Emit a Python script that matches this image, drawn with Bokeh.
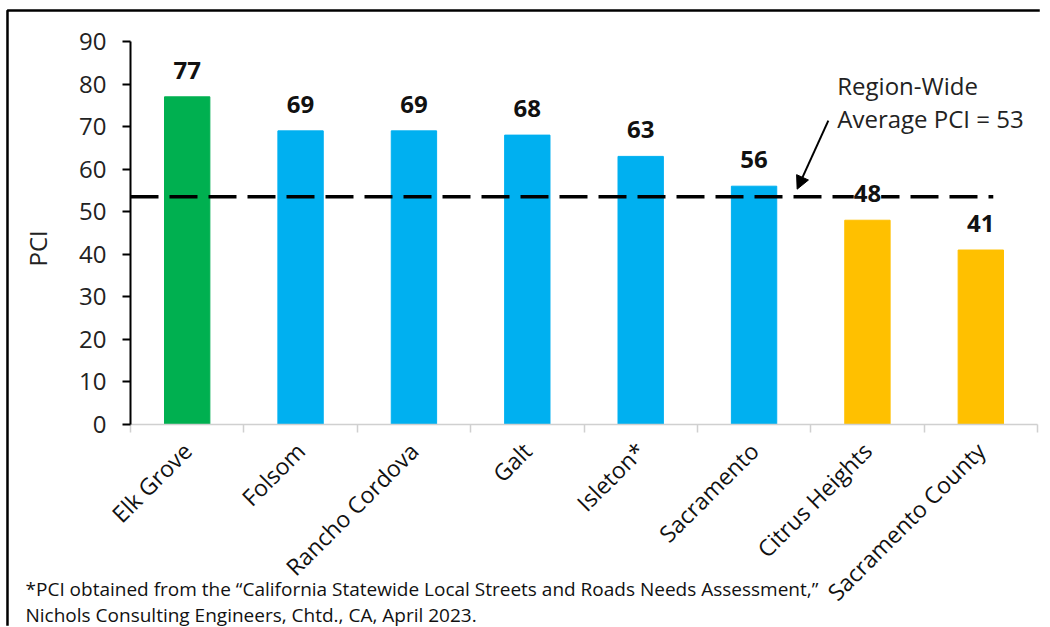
import numpy as np
from bokeh.plotting import figure
from bokeh.models import (Range1d, FixedTicker, ColumnDataSource, LabelSet, Label,
                          Arrow, NormalHead)
from bokeh.core.properties import value
from bokeh.embed import file_html
from bokeh.resources import INLINE

# ---- data ----
categories = ["Elk Grove", "Folsom", "Rancho Cordova", "Galt", "Isleton*",
              "Sacramento", "Citrus Heights", "Sacramento County"]
pci_values = [77, 69, 69, 68, 63, 56, 48, 41]
bar_colors = ["#00B050", "#00B0F0", "#00B0F0", "#00B0F0", "#00B0F0",
              "#00B0F0", "#FFC000", "#FFC000"]
region_avg = 53.5
avg_text = ["Region-Wide", "Average PCI = 53"]
y_ticks = [0, 10, 20, 30, 40, 50, 60, 70, 80, 90]
footnote = ["*PCI obtained from the \u201cCalifornia Statewide Local Streets and Roads Needs Assessment,\u201d",
            "Nichols Consulting Engineers, Chtd., CA, April 2023."]

FONT = "Open Sans"
n = len(categories)
xc = np.arange(n) + 0.5

p = figure(width=1050, height=627, x_range=Range1d(0, n), y_range=Range1d(0, 90),
           output_backend="svg", toolbar_location=None,
           min_border_left=130, min_border_right=13, min_border_top=41, min_border_bottom=203)
p.xgrid.visible = False
p.ygrid.visible = False
p.outline_line_color = None
p.background_fill_color = "white"
p.border_fill_color = "white"

src = ColumnDataSource(dict(x=xc, top=pci_values, color=bar_colors,
                            label=[str(v) for v in pci_values]))
p.vbar(x="x", top="top", width=0.4, bottom=0, color="color", source=src)

# average line
p.line(x=[0, n - 0.39], y=[region_avg, region_avg], line_color="black",
       line_width=3.5, line_dash="28 11")

labels = LabelSet(x="x", y="top", text="label", source=src, text_align="center",
                  text_baseline="alphabetic", y_offset=18, text_font=value(FONT),
                  text_font_size=value("24px"), text_font_style="bold", text_color="#111111",
                  background_fill_color="white")
p.add_layout(labels)

# x axis
xa = p.xaxis[0]
xa.ticker = FixedTicker(ticks=list(xc), minor_ticks=list(range(n + 1)))
xa.major_label_overrides = {float(x): c for x, c in zip(xc, categories)}
xa.major_tick_out = 0
xa.major_tick_in = 0
xa.minor_tick_out = 8
xa.minor_tick_in = 0
xa.minor_tick_line_color = "#d0d0d0"
xa.minor_tick_line_width = 1.5
xa.axis_line_color = "#d0d0d0"
xa.axis_line_width = 1.5
xa.major_label_orientation = np.pi / 4
xa.major_label_standoff = 14
xa.major_label_text_font = FONT
xa.major_label_text_font_size = "23px"
xa.major_label_text_color = "#111111"

# y axis
ya = p.yaxis[0]
ya.ticker = FixedTicker(ticks=y_ticks)
ya.axis_line_color = "black"
ya.axis_line_width = 2
ya.major_tick_line_color = "black"
ya.major_tick_line_width = 2
ya.major_tick_out = 8
ya.major_tick_in = 0
ya.minor_tick_line_color = None
ya.major_label_standoff = 16
ya.major_label_text_font = FONT
ya.major_label_text_font_size = "24px"
ya.major_label_text_color = "#222222"

p.add_layout(Label(x=-0.82, y=41.4, text="PCI", angle=np.pi / 2, text_align="center",
                   text_baseline="middle", text_font=FONT, text_font_size="24px",
                   text_color="#222222"), "left")

# annotation
p.add_layout(Label(x=6.234, y=79.7, text=avg_text[0], text_align="left",
                   text_baseline="middle", text_font=FONT, text_font_size="24px",
                   text_color="#222222"))
p.add_layout(Label(x=6.234, y=71.9, text=avg_text[1], text_align="left",
                   text_baseline="middle", text_font=FONT, text_font_size="24px",
                   text_color="#222222"))
p.add_layout(Arrow(end=NormalHead(size=13, fill_color="black", line_color="black"),
                   x_start=6.155, y_start=71.4, x_end=5.88, y_end=55.3,
                   line_color="black", line_width=2))

# footnote
p.text(x=[-0.926, -0.926], y=[-38.6, -44.7], text=footnote, text_align="left",
       text_baseline="middle", text_font=value(FONT), text_font_size="19px",
       text_color="#111111", level="overlay")

# outer border (top and left)
p.line(x=[-1.085, -1.085, 8.02], y=[-47.3, 97.3, 97.3],
       line_color="black", line_width=2.5, level="overlay")

open("out.html", "w").write(file_html(p, INLINE))
